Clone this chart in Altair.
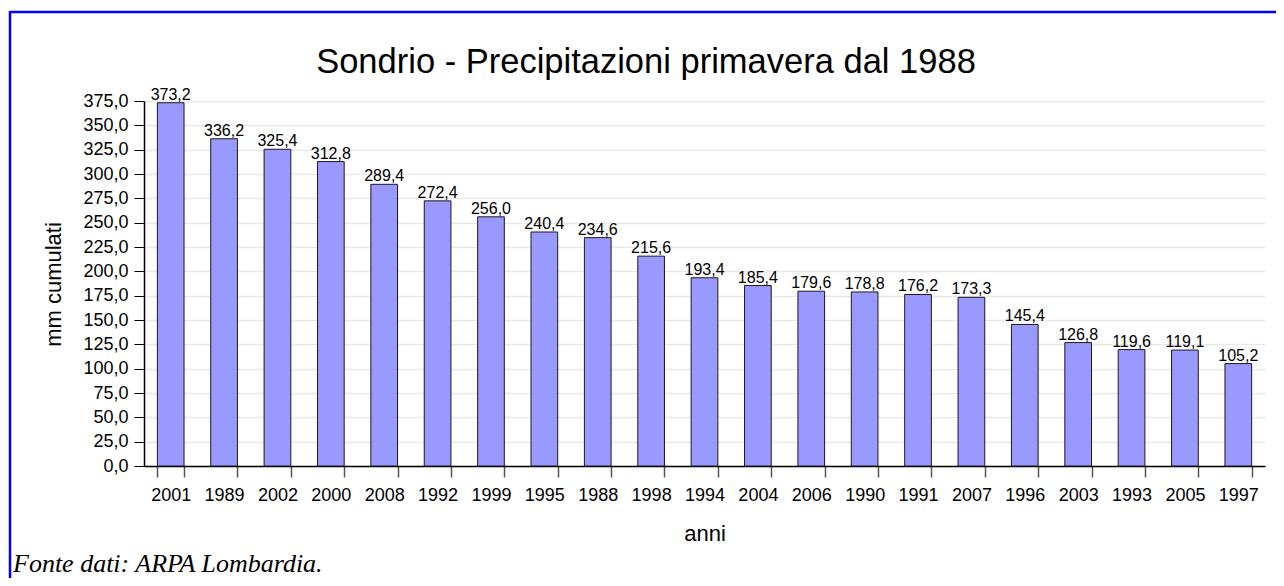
import altair as alt
import pandas as pd

years = ["2001", "1989", "2002", "2000", "2008", "1992", "1999", "1995", "1988", "1998", "1994",
         "2004", "2006", "1990", "1991", "2007", "1996", "2003", "1993", "2005", "1997"]
values = [373.2, 336.2, 325.4, 312.8, 289.4, 272.4, 256.0, 240.4, 234.6, 215.6, 193.4,
          185.4, 179.6, 178.8, 176.2, 173.3, 145.4, 126.8, 119.6, 119.1, 105.2]
labels = [f"{v:.1f}".replace(".", ",") for v in values]
y_ticks = [0, 25, 50, 75, 100, 125, 150, 175, 200, 225, 250, 275, 300, 325, 350, 375]
title_text = "Sondrio - Precipitazioni primavera dal 1988"
source_text = "Fonte dati: ARPA Lombardia."
x_title = "anni"
y_title = "mm cumulati"

FONT = "Liberation Sans"

df = pd.DataFrame({"anno": years, "mm": values, "label": labels})

x_enc = alt.X(
    "anno:N", sort=years,
    scale=alt.Scale(paddingInner=0.5, paddingOuter=0.25),
    axis=alt.Axis(
        title=x_title, labelAngle=0, tickBand="extent", tickSize=11, tickColor="#555555",
        tickWidth=1.5, domainColor="#000000", domainWidth=1.5, labelFontSize=18,
        labelColor="#000000", labelFont=FONT, labelPadding=9, labelOverlap=False,
        titleFont=FONT, titleFontSize=22, titleFontWeight="normal", titleColor="#000000",
        titleBaseline="alphabetic", titleY=74, grid=False,
    ),
)
y_enc = alt.Y(
    "mm:Q",
    scale=alt.Scale(domain=[0, 375], nice=False),
    axis=alt.Axis(
        title=y_title, values=y_ticks, tickCount=16,
        labelExpr="replace(format(datum.value, '.1f'), '.', ',')",
        labelOverlap=False,
        tickSize=10, tickColor="#000000", domainColor="#000000", domainWidth=1.5,
        labelFontSize=18, labelColor="#000000", labelFont=FONT, labelPadding=6,
        grid=True, gridColor="#e8e8e8", gridWidth=1.5,
        titleFont=FONT, titleFontSize=22, titleFontWeight="normal", titleColor="#000000",
        titleBaseline="alphabetic", titleAngle=270, titleX=-84, titleY=183,
    ),
)

base = alt.Chart(df).encode(x=x_enc, y=y_enc)
bars = base.mark_bar(color="#9999ff", stroke="#1a1a1a", strokeWidth=1)
texts = base.mark_text(baseline="alphabetic", dy=-3, fontSize=16, font=FONT, color="#000000").encode(
    text="label:N"
)

one = pd.DataFrame({"k": [0]})
border_top = alt.Chart(one).mark_rule(color="#0000ff", strokeWidth=2.5).encode(
    x=alt.value(-134), x2=alt.value(1145), y=alt.value(-89)
)
border_left = alt.Chart(one).mark_rule(color="#0000ff", strokeWidth=2.5).encode(
    x=alt.value(-134), y=alt.value(-90), y2=alt.value(490)
)
title = alt.Chart(pd.DataFrame({"t": [title_text]})).mark_text(
    fontSize=34.5, font=FONT, align="center", baseline="alphabetic", color="#000000"
).encode(x=alt.value(502), y=alt.value(-28), text="t:N")
footer = alt.Chart(pd.DataFrame({"s": [source_text]})).mark_text(
    fontSize=26, font="Liberation Serif", fontStyle="italic", align="left",
    baseline="alphabetic", color="#000000"
).encode(x=alt.value(-131), y=alt.value(471), text="s:N")

chart = alt.layer(bars, texts, border_top, border_left, title, footer).properties(
    width=1121, height=365,
    padding={"left": 136, "top": 93, "right": 11, "bottom": 112},
    autosize=alt.AutoSizeParams(type="none"),
    background="white",
).configure_view(stroke=None)

chart.save("out.html", embed_options={"renderer": "svg", "actions": False})
